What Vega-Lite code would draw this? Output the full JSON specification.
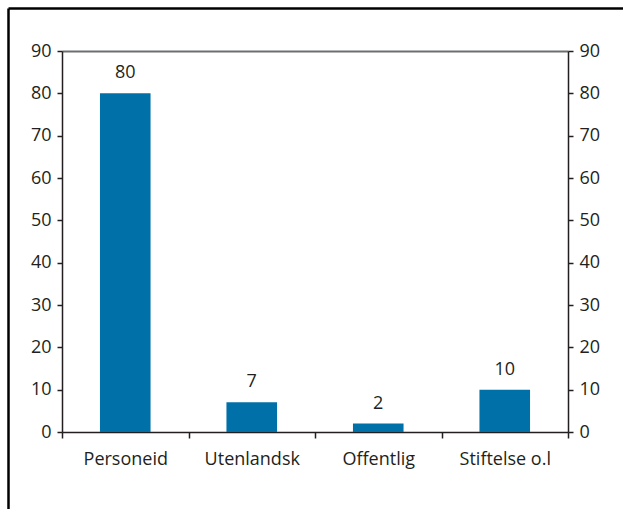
{
  "$schema": "https://vega.github.io/schema/vega-lite/v6.json",
  "width": 615,
  "height": 501,
  "autosize": "none",
  "padding": {"left": 8, "top": 8, "right": 0, "bottom": 0},
  "background": "white",
  "config": {
    "view": {"stroke": null},
    "font": "Open Sans",
    "axis": {
      "labelFont": "Open Sans",
      "labelFontSize": 18,
      "labelColor": "#231f20",
      "domainColor": "#231f20",
      "tickColor": "#231f20",
      "domainWidth": 1.5,
      "tickWidth": 1.5,
      "grid": false,
      "title": null
    }
  },
  "data": {
    "values": [
      {"category": "Personeid", "value": 80},
      {"category": "Utenlandsk", "value": 7},
      {"category": "Offentlig", "value": 2},
      {"category": "Stiftelse o.l", "value": 10}
    ]
  },
  "layer": [
    {
      "layer": [
        {
          "mark": {"type": "bar", "color": "#0070a8", "width": {"band": 0.4}},
          "encoding": {
            "x": {
              "field": "category", "type": "nominal", "sort": null,
              "scale": {"range": [54, 560], "paddingInner": 0, "paddingOuter": 0},
              "axis": {"orient": "bottom", "offset": -77, "tickBand": "extent", "labelAngle": 0, "tickSize": 6, "labelPadding": 12}
            },
            "y": {
              "field": "value", "type": "quantitative",
              "scale": {"domain": [0, 90], "range": [424, 43]},
              "axis": {"orient": "left", "offset": -54, "values": [0, 10, 20, 30, 40, 50, 60, 70, 80, 90], "tickSize": 5, "labelPadding": 6}
            }
          }
        },
        {
          "mark": {"type": "text", "fontSize": 18, "dy": -15, "baseline": "alphabetic", "color": "#231f20", "font": "Open Sans"},
          "encoding": {
            "x": {"field": "category", "type": "nominal", "sort": null, "axis": null},
            "y": {"field": "value", "type": "quantitative", "axis": null},
            "text": {"field": "value", "type": "quantitative"}
          }
        },
        {
          "mark": {"type": "bar", "opacity": 0},
          "encoding": {
            "x": {
              "field": "category", "type": "nominal", "sort": null,
              "axis": {"orient": "top", "offset": -43, "ticks": false, "labels": false, "domainColor": "#6d6e71", "domainWidth": 2}
            },
            "y": {
              "field": "value", "type": "quantitative",
              "axis": {"orient": "right", "offset": -55, "values": [0, 10, 20, 30, 40, 50, 60, 70, 80, 90], "tickSize": 5, "labelPadding": 6}
            }
          }
        }
      ],
      "resolve": {"axis": {"x": "independent", "y": "independent"}}
    },
    {
      "data": {"values": [{"a": 0}]},
      "mark": {"type": "point", "opacity": 0},
      "encoding": {
        "x": {
          "field": "a", "type": "quantitative", "scale": {"domain": [0, 1]},
          "axis": {"orient": "top", "offset": 0, "ticks": false, "labels": false, "domainColor": "#000000", "domainWidth": 2.5}
        },
        "y": {
          "field": "a", "type": "quantitative", "scale": {"domain": [0, 1]},
          "axis": {"orient": "left", "offset": 0, "ticks": false, "labels": false, "domainColor": "#000000", "domainWidth": 2.5}
        }
      }
    }
  ],
  "resolve": {
    "scale": {"x": "independent", "y": "independent"},
    "axis": {"x": "independent", "y": "independent"}
  }
}
